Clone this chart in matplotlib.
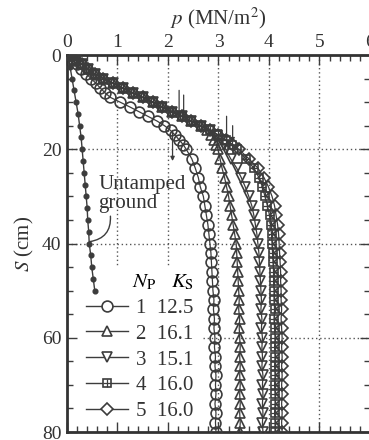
import matplotlib
matplotlib.use("Agg")
import matplotlib.pyplot as plt
from matplotlib.lines import Line2D
from matplotlib.ticker import MultipleLocator

plt.rcParams['font.family'] = ['Liberation Serif', 'DejaVu Serif']
plt.rcParams['mathtext.fontset'] = 'stix'

# ---- data ----
S = [0, 1, 2, 3, 4, 5, 6, 7, 8, 9, 10, 11, 12, 13, 14, 15, 16, 17, 18, 19, 20,
     22, 24, 26, 28, 30, 32, 34, 36, 38, 40, 42, 44, 46, 48, 50,
     52, 54, 56, 58, 60, 62, 64, 66, 68, 70, 72, 74, 76, 78, 80]

p1 = [0.08, 0.13, 0.20, 0.28, 0.38, 0.48, 0.57, 0.66, 0.75, 0.86, 1.05, 1.24, 1.42, 1.60, 1.78, 1.93, 2.05, 2.14, 2.22, 2.30, 2.36,
      2.47, 2.54, 2.60, 2.64, 2.70, 2.73, 2.76, 2.79, 2.81, 2.83, 2.85, 2.86, 2.87, 2.88, 2.89,
      2.91, 2.90, 2.92, 2.91, 2.93, 2.92, 2.94, 2.93, 2.95, 2.94, 2.95, 2.93, 2.95, 2.94, 2.95]
p2 = [0.08, 0.18, 0.30, 0.42, 0.55, 0.72, 0.92, 1.10, 1.30, 1.50, 1.70, 1.88, 2.08, 2.27, 2.46, 2.65, 2.78, 2.86, 2.92, 2.96, 2.99,
      3.03, 3.07, 3.12, 3.16, 3.20, 3.23, 3.26, 3.29, 3.32, 3.35, 3.36, 3.37, 3.38, 3.39, 3.40,
      3.41, 3.40, 3.42, 3.41, 3.42, 3.43, 3.42, 3.43, 3.42, 3.43, 3.42, 3.43, 3.42, 3.43, 3.42]
p3 = [0.08, 0.18, 0.30, 0.42, 0.55, 0.72, 0.92, 1.10, 1.30, 1.50, 1.70, 1.88, 2.08, 2.27, 2.46, 2.65, 2.84, 2.97, 3.05, 3.10, 3.14,
      3.24, 3.36, 3.45, 3.53, 3.60, 3.66, 3.70, 3.73, 3.76, 3.78, 3.80, 3.81, 3.82, 3.83, 3.84,
      3.85, 3.84, 3.86, 3.85, 3.87, 3.86, 3.87, 3.86, 3.88, 3.87, 3.88, 3.87, 3.88, 3.87, 3.88]
p4 = [0.08, 0.18, 0.30, 0.42, 0.55, 0.72, 0.92, 1.10, 1.30, 1.50, 1.70, 1.88, 2.08, 2.27, 2.46, 2.65, 2.84, 3.00, 3.14, 3.26, 3.36,
      3.54, 3.70, 3.80, 3.87, 3.92, 3.97, 4.01, 4.03, 4.05, 4.06, 4.07, 4.08, 4.09, 4.09, 4.10,
      4.10, 4.11, 4.10, 4.11, 4.12, 4.11, 4.12, 4.11, 4.12, 4.11, 4.12, 4.12, 4.11, 4.12, 4.12]
p5 = [0.08, 0.18, 0.30, 0.42, 0.55, 0.72, 0.92, 1.10, 1.30, 1.50, 1.70, 1.88, 2.08, 2.27, 2.46, 2.65, 2.84, 3.00, 3.15, 3.28, 3.40,
      3.60, 3.78, 3.90, 3.99, 4.06, 4.11, 4.14, 4.17, 4.19, 4.20, 4.21, 4.22, 4.23, 4.23, 4.24,
      4.24, 4.25, 4.24, 4.25, 4.26, 4.25, 4.26, 4.25, 4.26, 4.25, 4.26, 4.25, 4.26, 4.25, 4.26]

S_untamped = [0, 2.5, 5, 7.5, 10, 12.5, 15, 17.5, 20, 22.5, 25, 27.5, 30, 32.5, 35, 37.5, 40, 42.5, 45, 47.5, 50]
p_untamped = [0.02, 0.06, 0.10, 0.14, 0.18, 0.22, 0.25, 0.28, 0.30, 0.32, 0.34, 0.36, 0.38, 0.40, 0.41, 0.43, 0.44, 0.47, 0.49, 0.52, 0.55]

N_P = ['1', '2', '3', '4', '5']
K_S = ['12.5', '16.1', '15.1', '16.0', '16.0']
markers = ['o', '^', 'v', 's', 'D']
series = [p1, p2, p3, p4, p5]

# arrows (p, S_start, S_end)
arrows = [(2.22, 7.5, 13.0), (2.31, 8.5, 13.5), (3.16, 13.0, 18.0), (3.28, 15.0, 18.5), (2.09, 16.0, 22.5)]

x_ticks = [0, 1, 2, 3, 4, 5, 6]
y_ticks = [0, 20, 40, 60, 80]

# ---- figure ----
W, H = 369, 440
fig = plt.figure(figsize=(W / 100, H / 100), dpi=100)
fig.patch.set_facecolor('white')
ax = fig.add_axes([67 / W, 8 / H, 303 / W, 377 / H])
ax.set_facecolor('white')

col = '#3c3c3c'
gcol = '#555555'

# grid segments (dotted)
ax.vlines([1, 2], 0, 45, colors=gcol, linestyles=(0, (1, 2)), lw=1.0, zorder=1)
ax.vlines([3, 4, 5], 0, 80, colors=gcol, linestyles=(0, (1, 2)), lw=1.0, zorder=1)
ax.hlines([20, 40], 0, 6, colors=gcol, linestyles=(0, (1, 2)), lw=1.0, zorder=1)
ax.hlines([60], 2.7, 6, colors=gcol, linestyles=(0, (1, 2)), lw=1.0, zorder=1)

# untamped ground
ax.plot(p_untamped, S_untamped, color=col, lw=1.0, marker='o', ms=3.4, mfc=col, mec=col, zorder=3)

sizes = {'o': 7.8, '^': 7.8, 'v': 7.8, 's': 6.2, 'D': 6.4}
handles = []
for p, m, n, k in zip(series, markers, N_P, K_S):
    ms = sizes[m]
    ax.plot(p, S, color=col, lw=0.9, marker=m, ms=ms, mfc='none', mec=col, mew=1.2, zorder=4)
    h = Line2D([], [], color=col, lw=1.0, marker=m, ms=ms, mfc='white', mec=col, mew=1.2)
    if m == 's':
        ax.plot(p, S, ls='none', marker='+', ms=ms, mec=col, mew=0.9, zorder=4)
        h = (h, Line2D([], [], ls='none', marker='+', ms=ms, mec=col, mew=0.9))
    handles.append(h)
labels = [f'{n}  {k}' for n, k in zip(N_P, K_S)]

for (px, s0, s1) in arrows:
    ax.annotate('', xy=(px, s1), xytext=(px, s0),
                arrowprops=dict(arrowstyle='-|>', color=col, lw=0.9, mutation_scale=6, shrinkA=0, shrinkB=0),
                zorder=5)

# untamped label and leader
ax.text(0.62, 29.5, 'Untamped\nground', fontsize=15, color='#333333', va='center', ha='left',
        linespacing=0.95, zorder=6)
ax.annotate('', xy=(0.45, 39.6), xytext=(0.86, 34.2),
            arrowprops=dict(arrowstyle='-', color=col, lw=1.0, connectionstyle='arc3,rad=-0.45',
                            shrinkA=0, shrinkB=0), zorder=5)

leg = ax.legend(handles=handles, labels=labels, loc='lower left', bbox_to_anchor=(0.015, -0.01),
                frameon=False, fontsize=15, handlelength=2.0, handletextpad=0.4,
                labelspacing=0.3, borderpad=0.2,
                title=r'$N_\mathrm{P}$   $K_\mathrm{S}$', title_fontsize=15, alignment='right')
for t in leg.get_texts():
    t.set_color('#333333')

ax.set_xlim(0, 6)
ax.set_ylim(80, 0)
ax.set_xticks(x_ticks)
ax.set_yticks(y_ticks)
ax.xaxis.set_minor_locator(MultipleLocator(0.2))
ax.yaxis.set_minor_locator(MultipleLocator(5))
ax.tick_params(axis='x', which='both', direction='in', top=True, bottom=True, labeltop=True,
               labelbottom=False, labelsize=14, colors=col, pad=3)
ax.tick_params(axis='y', which='both', direction='in', left=True, right=True, labelsize=14,
               colors=col, pad=4)
ax.tick_params(which='major', length=7, width=1.0)
ax.tick_params(which='minor', length=4, width=1.0)
for t in ax.get_xticklabels() + ax.get_yticklabels():
    t.set_color('#333333')

ax.xaxis.set_label_position('top')
ax.set_xlabel(r'$p$ (MN/m$^2$)', fontsize=15, color='#333333', labelpad=7)
ax.set_ylabel(r'$S$ (cm)', fontsize=15, color='#333333', labelpad=4)

for sp in ax.spines.values():
    sp.set_linewidth(2.0)
    sp.set_color('#333333')

fig.savefig('out.png', dpi=100)
